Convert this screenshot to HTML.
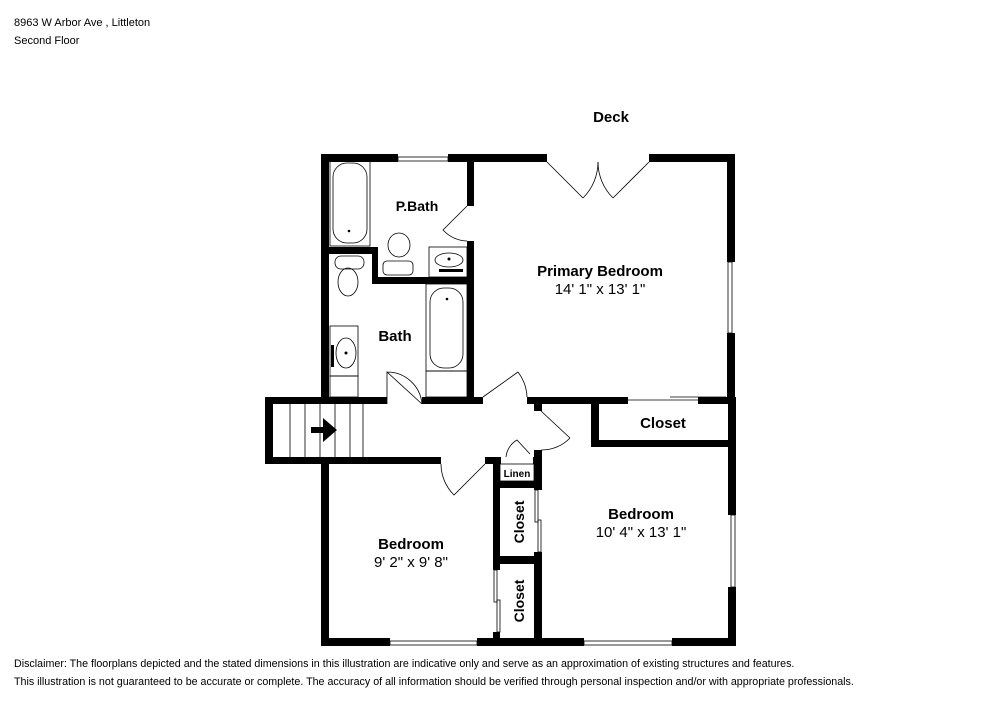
<!DOCTYPE html>
<html><head><style>
body{margin:0;background:#fff;width:1000px;height:707px;overflow:hidden;font-family:"Liberation Sans",sans-serif}
svg{position:absolute;left:0;top:0}
</style></head><body>
<svg width="1000" height="707" viewBox="0 0 1000 707" font-family="Liberation Sans, sans-serif">
<text x="14" y="26" font-size="11">8963 W Arbor Ave , Littleton</text>
<text x="14" y="44" font-size="11">Second Floor</text>
<text x="611" y="122" font-size="15" font-weight="bold" text-anchor="middle">Deck</text>
<text x="14" y="667" font-size="10.7">Disclaimer: The floorplans depicted and the stated dimensions in this illustration are indicative only and serve as an approximation of existing structures and features.</text>
<text x="14" y="685" font-size="10.7">This illustration is not guaranteed to be accurate or complete. The accuracy of all information should be verified through personal inspection and/or with appropriate professionals.</text>
<g fill="#000">
<rect x="321" y="154" width="414" height="8"/>
<rect x="321" y="154" width="8" height="250"/>
<rect x="727" y="154" width="8" height="250"/>
<rect x="467" y="154" width="7" height="250"/>
<rect x="329" y="247" width="49" height="7"/>
<rect x="372" y="247" width="6" height="37"/>
<rect x="372" y="277" width="95" height="7"/>
<rect x="265" y="397" width="470" height="7"/>
<rect x="265" y="397" width="8" height="67"/>
<rect x="265" y="457" width="276" height="7"/>
<rect x="534" y="397" width="8" height="249"/>
<rect x="591" y="397" width="8" height="50"/>
<rect x="591" y="440" width="144" height="7"/>
<rect x="728" y="397" width="8" height="249"/>
<rect x="321" y="457" width="8" height="189"/>
<rect x="321" y="638" width="415" height="8"/>
<rect x="493" y="457" width="7" height="189"/>
<rect x="493" y="481" width="48" height="7"/>
<rect x="493" y="556" width="48" height="8"/>
</g>
<g fill="#fff">
<rect x="398" y="153" width="50" height="10"/>
<rect x="547" y="153" width="102" height="10"/>
<rect x="466" y="206" width="9" height="35"/>
<rect x="726" y="262" width="11" height="71"/>
<rect x="387" y="396" width="35" height="9"/>
<rect x="483" y="396" width="44" height="9"/>
<rect x="628" y="396" width="70" height="9"/>
<rect x="533" y="411" width="10" height="39"/>
<rect x="441" y="456" width="44" height="9"/>
<rect x="501" y="456" width="32" height="9"/>
<rect x="390" y="637" width="87" height="10"/>
<rect x="584" y="637" width="88" height="10"/>
<rect x="727" y="515" width="10" height="72"/>
<rect x="533" y="490" width="10" height="62"/>
<rect x="492" y="570" width="9" height="62"/>
</g>
<g fill="none" stroke="#000" stroke-width="0.8">
<rect x="398" y="157" width="50" height="4"/>
<rect x="728" y="262" width="4" height="71"/>
<rect x="390" y="641" width="87" height="4"/>
<rect x="584" y="641" width="88" height="4"/>
<rect x="731" y="515" width="4" height="72"/>
<path d="M547 162 L583 198 M583 198 A51 51 0 0 0 598 162"/>
<path d="M649 162 L613 198 M613 198 A51 51 0 0 1 598 162"/>
<path d="M467 206 L443 230 A35 35 0 0 0 467 241"/>
<path d="M387 404 L387 372 L422 404 M387 372 A35 35 0 0 1 422 404"/>
<path d="M483 397 L518 372 M518 372 A44 44 0 0 1 527 397"/>
<path d="M541 411 L570 438 M570 438 A39 39 0 0 1 541 450"/>
<path d="M485 464 L454 495 A44 44 0 0 1 441 464"/>
<path d="M506 457 A22 22 0 0 1 517 440 L530 454"/>
<path d="M628 400 H702 M670 397 H726"/>
<rect x="535" y="490" width="3" height="32"/><rect x="538" y="520" width="3" height="32"/>
<rect x="494" y="570" width="3" height="32"/><rect x="497" y="600" width="3" height="32"/>
<path d="M290 404 V457 M305 404 V457 M320 404 V457 M335 404 V457 M350 404 V457 M363 404 V457"/>
<rect x="333" y="163" width="34" height="80" rx="14"/>
<rect x="330" y="160" width="40" height="86"/>
<ellipse cx="399" cy="245" rx="11" ry="12"/>
<rect x="383" y="261" width="30" height="14" rx="4"/>
<rect x="429" y="247" width="38" height="30"/>
<ellipse cx="449" cy="260" rx="14" ry="7"/>
<rect x="335" y="256" width="29" height="13" rx="6"/>
<ellipse cx="348" cy="282" rx="10" ry="14"/>
<rect x="330" y="326" width="28" height="50"/>
<ellipse cx="346" cy="353" rx="10" ry="15"/>
<rect x="330" y="376" width="28" height="21"/>
<rect x="426" y="284" width="41" height="87"/>
<rect x="430" y="288" width="33" height="80" rx="14"/>
<rect x="426" y="371" width="41" height="26"/>
<rect x="500" y="464" width="34" height="17"/>
</g>
<g fill="#000">
<circle cx="349" cy="231" r="1.3"/><circle cx="447" cy="299" r="1.3"/>
<circle cx="449" cy="259" r="1.5"/><circle cx="346" cy="353" r="1.5"/>
<path d="M311 427 H323 V418 L337 430 L323 442 V433 H311Z"/>
<rect x="439" y="269" width="24" height="3"/><rect x="331" y="345" width="3" height="22"/>
</g>
<g font-weight="bold" font-size="15" text-anchor="middle">
<text x="417" y="211" font-size="14">P.Bath</text>
<text x="395" y="341">Bath</text>
<text x="600" y="276">Primary Bedroom</text>
<text x="663" y="428">Closet</text>
<text x="641" y="519">Bedroom</text>
<text x="411" y="549">Bedroom</text>
<text x="517" y="477" font-size="10" font-weight="bold">Linen</text>
<text transform="translate(524,522) rotate(-90)" font-size="14">Closet</text>
<text transform="translate(524,601) rotate(-90)" font-size="14">Closet</text>
</g>
<g font-size="15" text-anchor="middle">
<text x="600" y="294">14' 1" x 13' 1"</text>
<text x="641" y="537">10' 4" x 13' 1"</text>
<text x="411" y="567">9' 2" x 9' 8"</text>
</g>
</svg>
</body></html>
